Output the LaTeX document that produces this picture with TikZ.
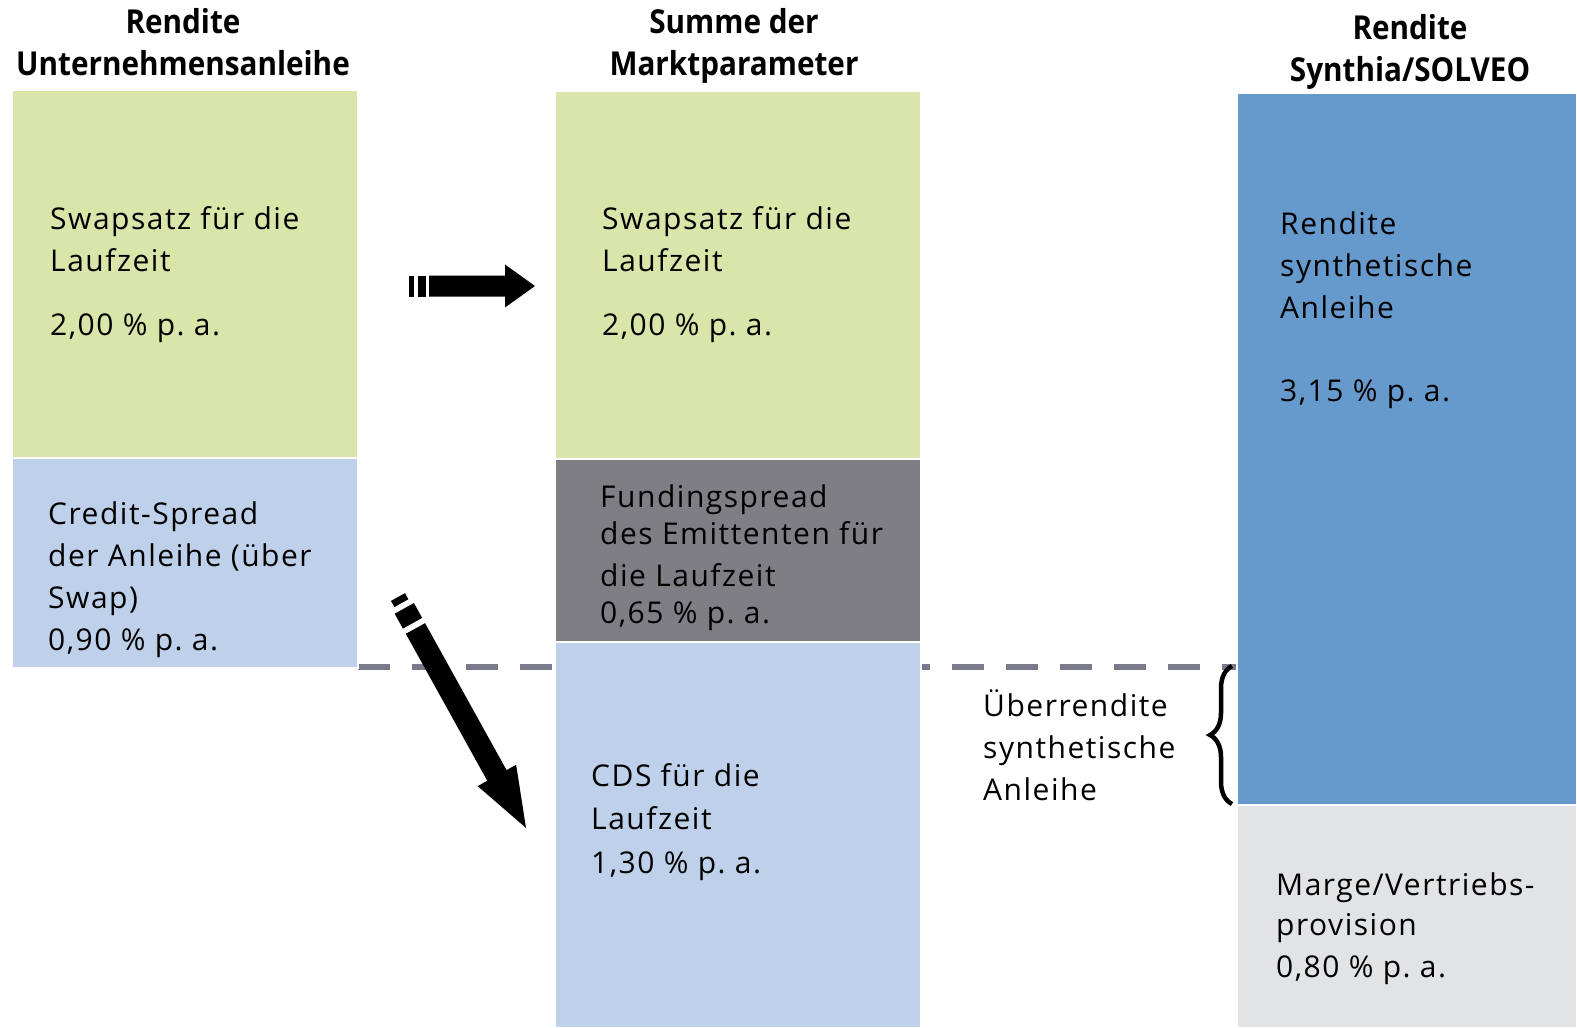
\documentclass[tikz,border=0pt]{standalone}
\usepackage{fontspec}
\setmainfont{Open Sans}[LetterSpace=5]
\newfontfamily\headfont[FakeStretch=0.9]{Open Sans}
\usetikzlibrary{decorations.pathreplacing}

\definecolor{swapgreen}{HTML}{DAE5A9}
\definecolor{spreadblue}{HTML}{BFD0EA}
\definecolor{fundgrey}{HTML}{7F7E84}
\definecolor{synblue}{HTML}{6699CC}
\definecolor{margegrey}{HTML}{E2E3E5}
\definecolor{dashgrey}{HTML}{7A7A8C}

\tikzset{
  box/.style={draw=white, line width=1.5pt},
  boxtext/.style={anchor=base west, align=left, inner sep=0pt,
    font=\fontsize{30}{42}\selectfont},
  head/.style={anchor=base, align=center, inner sep=0pt,
    font=\headfont\bfseries\fontsize{33}{42}\selectfont}
}

\begin{document}
\begin{tikzpicture}[x=1pt, y=-1pt]
    \useasboundingbox (0,0) rectangle (1577,1028);

    % dashed level line (lies behind the middle column)
    \coordinate (dashl) at (358,667);
    \coordinate (dashr) at (1237,667);
    \draw[dashgrey, line width=6pt, dash pattern=on 32pt off 22pt] (dashl) -- (dashr);

    % left column
    \fill[swapgreen, box] (12,90) rectangle (358,458);
    \fill[spreadblue, box] (12,458) rectangle (358,668);
    % middle column
    \fill[swapgreen, box] (555,91) rectangle (921,459);
    \fill[fundgrey, box] (555,459) rectangle (921,642);
    \fill[spreadblue, box] (555,642) rectangle (921,1028);
    % right column
    \fill[synblue, box] (1237,93) rectangle (1577,805);
    \fill[margegrey, box] (1237,805) rectangle (1577,1028);

    % headings (anchored at the last line)
    \node[head] (hleft) at (183,75) {Rendite\\Unternehmensanleihe};
    \node[head] (hmid) at (734,75) {Summe der\\Marktparameter};
    \node[head] (hright) at (1410,81) {Rendite\\Synthia/SOLVEO};

    % box texts (anchored at the last line)
    \node[boxtext] (lswap) at (50,335) {Swapsatz für die\\Laufzeit\\[22pt]2,00 \% p.~a.};
    \node[boxtext] (lspread) at (48,650) {Credit-Spread\\der Anleihe (über\\Swap)\\0,90 \% p.~a.};
    \node[boxtext] (mswap) at (602,335) {Swapsatz für die\\Laufzeit\\[22pt]2,00 \% p.~a.};
    \node[boxtext] (mfund) at (600,623) {Fundingspread\\[-5pt]des Emittenten für\\die Laufzeit\\[-5pt]0,65 \% p.~a.};
    \node[boxtext] (mcds) at (591,873) {CDS für die\\[1pt]Laufzeit\\[2pt]1,30 \% p.~a.};
    \node[boxtext] (rsyn) at (1280,401) {Rendite\\synthetische\\Anleihe\\[41pt]3,15 \% p.~a.};
    \node[boxtext] (rmarge) at (1276,977) {Marge/Vertriebs-\\[-2pt]provision\\0,80 \% p.~a.};
    \node[boxtext] (ueber) at (983,800) {Überrendite\\synthetische\\Anleihe};

    % brace for the excess yield
    \coordinate (brbot) at (1232,804);
    \coordinate (brtop) at (1232,666);
    \draw[line width=4.5pt, decorate, decoration={brace, amplitude=22pt}] (brbot) -- (brtop);

    % horizontal block arrow
    \coordinate (harrow) at (409,286);
    \begin{scope}[shift={(harrow)}]
        \fill (0,-10.5) rectangle (5,10.5);
        \fill (9,-10.5) rectangle (17,10.5);
        \fill (20,-10.5) -- (96,-10.5) -- (96,-21.5) -- (126,0)
            -- (96,21.5) -- (96,10.5) -- (20,10.5) -- cycle;
    \end{scope}

    % diagonal block arrow
    \coordinate (darrow) at (398,597);
    \begin{scope}[shift={(darrow)}, rotate=-61]
        \fill (0,-8) rectangle (7,8);
        \fill (13,-11) rectangle (30,11);
        \fill (36,-11) -- (204,-11) -- (204,-22) -- (264,0)
            -- (204,22) -- (204,11) -- (36,11) -- cycle;
    \end{scope}
\end{tikzpicture}
\end{document}
